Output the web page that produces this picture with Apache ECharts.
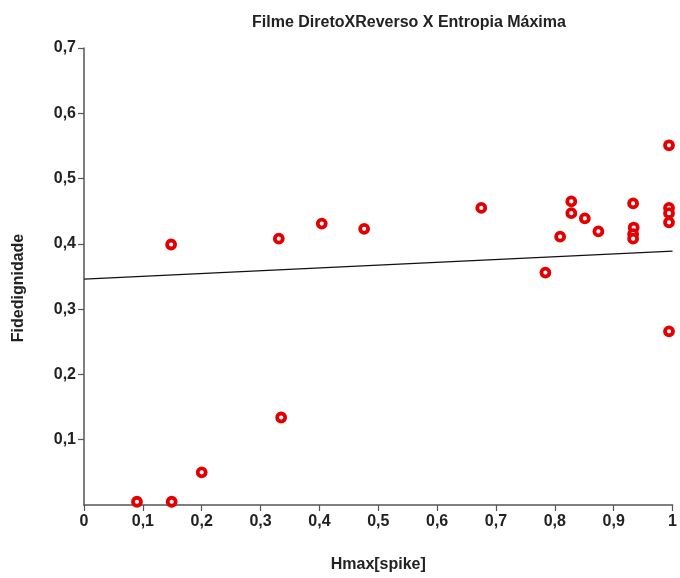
<!DOCTYPE html>
<html>
<head>
<meta charset="utf-8">
<script src="https://cdn.jsdelivr.net/npm/echarts@6/dist/echarts.min.js"></script>
<style>html,body{margin:0;padding:0;background:#fff}#c{width:680px;height:578px}</style>
</head>
<body>
<div id="c"></div>
<script>
// Hmax[spike] values
var hmax = [0.090,0.149,0.200,0.335,0.148,0.331,0.404,0.476,0.675,0.784,0.809,0.828,0.828,0.851,0.874,0.933,0.934,0.933,0.933,0.994,0.994,0.994,0.994,0.994];
// Fidedignidade values
var fide = [0.005,0.005,0.050,0.134,0.399,0.408,0.431,0.423,0.455,0.356,0.411,0.465,0.447,0.439,0.419,0.462,0.425,0.415,0.408,0.551,0.455,0.447,0.433,0.266];
// regression line end points
var fitX = [0, 1];
var fitY = [0.346, 0.389];
var xTicks = [0,0.1,0.2,0.3,0.4,0.5,0.6,0.7,0.8,0.9,1];

var pts = hmax.map(function(x,i){return [x, fide[i]];});
var fit = fitX.map(function(x,i){return [x, fitY[i]];});
function fmt(v){ if (Math.abs(v) < 1e-9) return '0'; if (Math.abs(v-1) < 1e-9) return '1'; return v.toFixed(1).replace('.', ','); }
var FONT = 'Liberation Sans';
var chart = echarts.init(document.getElementById('c'), null, {renderer:'canvas'});
chart.setOption({
  animation: false,
  backgroundColor: '#fff',
  title: {
    text: 'Filme DiretoXReverso X Entropia Máxima',
    left: 404, top: 10, textAlign: 'center',
    textStyle: {fontFamily: FONT, fontWeight: 'bold', fontSize: 16, color: '#222'}
  },
  grid: {left: 84, right: 4, top: 48, bottom: 64, containLabel: false},
  xAxis: {
    type: 'value', min: 0, max: 1, interval: 0.1,
    name: 'Hmax[spike]', nameLocation: 'middle', nameGap: 52,
    nameTextStyle: {fontFamily: FONT, fontWeight: 'bold', fontSize: 16, color: '#222'},
    axisLine: {show: true, onZero: false, lineStyle: {color: '#555', width: 1.5}},
    axisTick: {show: true, inside: false, length: 6, lineStyle: {color: '#555', width: 1.2}},
    axisLabel: {margin: 9, formatter: fmt, fontFamily: FONT, fontWeight: 'bold', fontSize: 16, color: '#222',
      customValues: xTicks},
    splitLine: {show: false}
  },
  yAxis: {
    type: 'value', min: 0, max: 0.7, interval: 0.1,
    axisLine: {show: true, onZero: false, lineStyle: {color: '#555', width: 1.5}},
    axisTick: {show: true, inside: false, length: 6, lineStyle: {color: '#555', width: 1.2}},
    axisLabel: {margin: 8, formatter: fmt, showMinLabel: false, fontFamily: FONT, fontWeight: 'bold', fontSize: 16, color: '#222'},
    splitLine: {show: false}
  },
  graphic: [{
    type: 'text', x: 19, y: 288, rotation: Math.PI/2,
    style: {text: 'Fidedignidade', align: 'center', verticalAlign: 'middle',
      font: 'bold 16px "Liberation Sans"', fill: '#222'}
  }],
  series: [
    {type: 'line', data: fit, symbol: 'none', silent: true,
     lineStyle: {color: '#111', width: 1.2}, z: 2},
    {type: 'scatter', data: pts, symbol: 'circle', symbolSize: 8,
     itemStyle: {color: '#fff', borderColor: '#e40000', borderWidth: 3.8, opacity: 1}, z: 3}
  ]
});
</script>
</body>
</html>
